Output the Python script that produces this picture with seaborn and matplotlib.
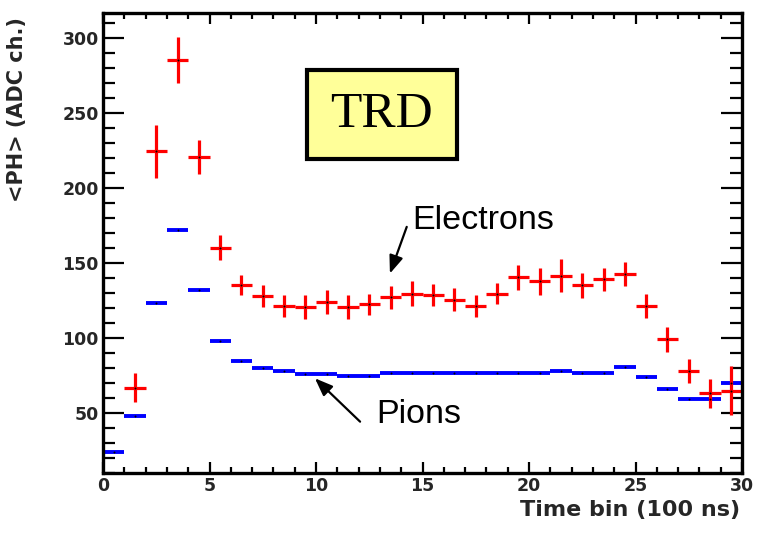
import pandas as pd
import seaborn as sns
import matplotlib.pyplot as plt
from matplotlib.ticker import MultipleLocator
from matplotlib.patches import Rectangle

sns.set_theme(style="ticks")
plt.rcParams['font.family'] = ['DejaVu Sans']

# average pulse height per time bin
pion_bins = list(range(0, 30))
pion_ph = [24, 48.2, 123, 172, 132, 97.7, 84.4, 80, 77.7, 76,
           76, 74.6, 74.8, 76.3, 76.8, 76.8, 76.8, 76.8, 76.8, 76.8,
           76.8, 78, 76.8, 76.8, 80.4, 73.8, 65.8, 59, 59, 70]

electron_bins = list(range(1, 30))
electron_ph = [66.8, 224.3, 285.3, 220.6, 160.2, 135.2, 128, 121.4, 120.3, 124,
               120.3, 122.5, 127, 129.6, 128.5, 125.6, 121.2, 129.6, 140.3, 137.8,
               141.4, 135.2, 139, 142.5, 121.2, 99, 78, 63.1, 64.8]
electron_err = [9.5, 17.7, 15.2, 11.1, 8.1, 6.7, 7.2, 7.2, 8, 7.8,
                8, 6.9, 7.4, 8, 7.5, 7.5, 7.5, 7.2, 8.4, 8.9,
                10.9, 8.3, 7.5, 7.8, 7.8, 8.2, 7.8, 9.6, 16.3]

pions = pd.DataFrame({'bin': pion_bins, 'ph': pion_ph})
pions['t'] = pions['bin'] + 0.5
electrons = pd.DataFrame({'bin': electron_bins, 'ph': electron_ph, 'err': electron_err})
electrons['t'] = electrons['bin'] + 0.5

fig = plt.figure(figsize=(7.57, 5.46), dpi=100)
ax = fig.add_axes([103 / 757, 1 - 473 / 546, 639 / 757, 460 / 546])

ax.errorbar(pions['t'], pions['ph'], xerr=0.5, fmt='none', ecolor='#0000ff', elinewidth=2.8, capsize=0)
ax.errorbar(electrons['t'], electrons['ph'], xerr=0.5, yerr=electrons['err'], fmt='none',
            ecolor='#ff0000', elinewidth=2.3, capsize=0)
sns.scatterplot(data=pions, x='t', y='ph', color='black', s=2, linewidth=0, ax=ax, zorder=5)
sns.scatterplot(data=electrons, x='t', y='ph', color='black', s=2, linewidth=0, ax=ax, zorder=5)

ax.set_xlim(0, 30)
ax.set_ylim(10, 316.5)
ax.xaxis.set_major_locator(MultipleLocator(5))
ax.xaxis.set_minor_locator(MultipleLocator(1))
ax.yaxis.set_major_locator(MultipleLocator(50))
ax.yaxis.set_minor_locator(MultipleLocator(10))
ax.tick_params(which='both', direction='in', top=True, right=True, width=1.6, color='black',
               labelsize=12.5, pad=3)
ax.tick_params(axis='x', which='major', length=8)
ax.tick_params(axis='x', which='minor', length=4.3)
ax.tick_params(axis='y', which='major', length=15)
ax.tick_params(axis='y', which='minor', length=8.5)
for lab in ax.get_xticklabels() + ax.get_yticklabels():
    lab.set_fontweight('bold')
for sp in ax.spines.values():
    sp.set_linewidth(2.4)
    sp.set_color('black')

ax.set_xlabel('Time bin (100 ns)', fontsize=16, fontweight='bold', ha='right', va='center')
ax.xaxis.set_label_coords(0.997, -0.080)
ax.set_ylabel('<PH> (ADC ch.)', fontsize=15, fontweight='bold', ha='center', va='center')
ax.yaxis.set_label_coords(-0.1346, 0.791)

# TRD label box
ax.add_patch(Rectangle((9.56, 219.5), 7.04, 58.7, facecolor='#ffff99', edgecolor='black',
                       linewidth=3, zorder=6))
ax.text(13.08, 249, 'TRD', family='Liberation Serif', fontsize=37, ha='center', va='center',
        color='black', zorder=7)

arrow = dict(arrowstyle='-|>,head_length=0.9,head_width=0.35', color='black', lw=1.6,
             shrinkA=0, shrinkB=0)
ax.annotate('', xy=(13.47, 142.9), xytext=(14.26, 174.0), arrowprops=arrow)
ax.text(14.54, 172.9, 'Electrons', family='Liberation Sans', fontsize=24.5, va='baseline', color='black')
ax.annotate('', xy=(9.95, 73.1), xytext=(12.07, 44.2), arrowprops=arrow)
ax.text(12.82, 43.1, 'Pions', family='Liberation Sans', fontsize=24.5, va='baseline', color='black')

plt.savefig('out.png', dpi=100)
